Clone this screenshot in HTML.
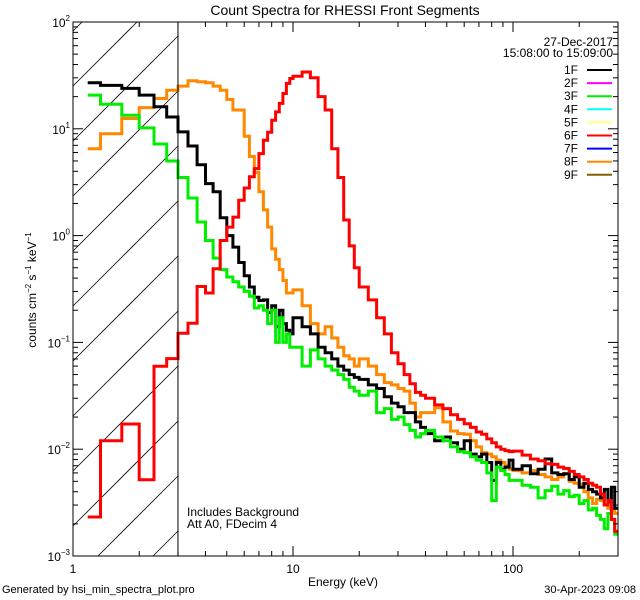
<!DOCTYPE html>
<html><head><meta charset="utf-8"><style>
html,body{margin:0;padding:0;background:#fff;width:640px;height:600px;overflow:hidden;}
svg{display:block;font-family:"Liberation Sans",sans-serif;}
</style></head><body>
<svg id="chart" width="640" height="600" viewBox="0 0 640 600" xmlns="http://www.w3.org/2000/svg">
<rect x="0" y="0" width="640" height="600" fill="#fff"/>
<defs><clipPath id="plotclip"><rect x="73" y="22" width="545" height="534"/></clipPath></defs>
<g id="hatch"></g>
<g id="series" clip-path="url(#plotclip)"></g>
<g id="axes"></g>
<text x="345" y="15" font-size="14" text-anchor="middle">Count Spectra for RHESSI Front Segments</text>
<text x="343" y="586" font-size="12" text-anchor="middle">Energy (keV)</text>
<text transform="translate(36,290) rotate(-90)" font-size="12" text-anchor="middle">counts cm<tspan font-size="8" dy="-5">−2</tspan><tspan dy="5"> s</tspan><tspan font-size="8" dy="-5">−1</tspan><tspan dy="5"> keV</tspan><tspan font-size="8" dy="-5">−1</tspan></text>
<text x="2" y="593" font-size="11">Generated by hsi_min_spectra_plot.pro</text>
<text x="636" y="593" font-size="11" text-anchor="end">30-Apr-2023 09:08</text>
<text x="187" y="516" font-size="12">Includes Background</text>
<text x="187" y="528" font-size="12">Att A0, FDecim 4</text>
<text x="613" y="46" font-size="12" text-anchor="end">27-Dec-2017</text>
<text x="613" y="57" font-size="12" text-anchor="end">15:08:00 to 15:09:00</text>
<g id="legend"></g>
</svg>
<script>
const NS="http://www.w3.org/2000/svg";
const binEdges=[];
for(let i=0;i<=27;i++)binEdges.push(1+i/3);
for(let e=11;e<=20;e+=1)binEdges.push(e);
for(let e=22;e<=40;e+=2)binEdges.push(e);
for(let e=44;e<=100;e+=4)binEdges.push(e);
for(let e=110;e<=300;e+=10)binEdges.push(e);
const seg1F=[27.0,25.5,23.9,20.7,16.1,12.9,9.35,6.9,4.6,3.07,2.57,1.47,1.0,0.78,0.56,0.42,0.33,0.265,0.247,0.25,0.19,0.22,0.14,0.2,0.15,0.13,0.12,
.17,.14,.12,.09,.08,.07,.06,.055,.05,.047,
.045,.04,.037,.031,.027,.025,.022,.022,.018,.016,
.014,.012,.013,.0115,.010,.012,.009,.0085,.009,.0075,.0051,.0075,.0065,.0068,.0079,
.0065,.007,.0059,.0065,.0081,.006,.0058,.0059,.0052,.0055,.0044,.0048,.0042,.004,.0038,.0035,.0042,.0032,.0044,.0028];
const seg3F=[20.7,17.0,13.4,10.2,7.2,5.0,3.5,2.25,1.34,0.90,0.615,0.48,0.41,0.37,0.33,0.30,0.27,0.21,0.22,0.2,0.15,0.2,0.1,0.17,0.1,0.12,0.09,
.09,.06,.085,.07,.06,.055,.05,.045,.038,.035,
.032,.035,.022,.024,.019,.02,.017,.015,.013,.014,
.015,.013,.012,.0105,.0095,.0093,.0085,.0079,.0075,.006,.0033,.0068,.0063,.0058,.0051,
.0051,.0046,.0044,.0035,.0041,.0045,.0038,.0041,.0036,.0037,.0031,.0033,.0027,.0028,.0024,.0022,.0018,.0025,.0022,.0016];
const seg6F=[.00232,.012,.0172,.00517,.0597,.0705,.122,.151,.334,.29,.49,.9,1.2,1.49,2.14,2.79,3.55,4.24,5.86,7.8,9.3,12.0,14.4,17.3,21.4,26.6,29.6,
31,34,30,20,15,6.5,3.5,1.4,0.8,0.5,
.33,.25,.17,.12,.08,.063,.05,.041,.034,.032,
.030,.026,.024,.021,.019,.0173,.016,.0145,.0138,.0125,.0115,.0105,.010,.0097,.0095,
.0096,.0088,.0081,.0078,.0073,.0072,.0068,.0066,.0062,.0058,.0055,.0052,.0048,.0046,.0044,.0038,.003,.0033,.0022,.0017];
const seg8F=[6.5,9.0,12.5,15.8,19.2,23.0,25.1,28.2,27.6,27.0,25.1,23.0,18.8,15.0,15.0,8.5,5.5,3.9,2.57,1.74,1.2,0.75,0.6,0.48,0.38,0.29,0.29,
.31,.22,.15,.12,.14,.11,.09,.075,.07,.06,
.07,.06,.05,.042,.04,.037,.035,.027,.02,.022,
.022,.0244,.018,.0148,.014,.0138,.012,.0105,.0093,.009,.0085,.0079,.0075,.007,.0065,
.0063,.006,.0063,.0058,.0055,.0052,.0055,.0059,.005,.0048,.0047,.004,.0035,.0031,.0034,.0033,.003,.0028,.0027,.0025];
const legendLabels=["1F","2F","3F","4F","5F","6F","7F","8F","9F"];
const legendColors=["#000000","#ff00ff","#00ee00","#00ffff","#ffff80","#ff0000","#0000ff","#ff8800","#806000"];
const xTickLabels=["1","10","100"];
const yTickExps=["2","1","0","-1","-2","-3"];

const X0=73,X1=618,DEC=220,Y0=22,Y1=556,YDEC=106.8;
function xs(e){return X0+Math.log10(e)*DEC;}
function ys(v){return Y0+(2-Math.log10(v))*YDEC;}
function mk(tag,attrs,parent){const el=document.createElementNS(NS,tag);for(const k in attrs)el.setAttribute(k,attrs[k]);parent.appendChild(el);return el;}

const hatch=document.getElementById('hatch');
const HX1=178;
for(let c=86-55;c<Y1+(HX1-X0);c+=55){
  const xa=X0+Math.max(0,c-Y1), xb=Math.min(HX1,X0+c-Y0);
  if(xb<=xa)continue;
  const l=mk('line',{x1:xa,y1:c-(xa-X0),x2:xb,y2:c-(xb-X0),stroke:'#000','stroke-width':0.8},hatch);
  
  
}
const axes=document.getElementById('axes');
const vl=mk('line',{x1:xs(3),y1:Y0,x2:xs(3),y2:Y1,stroke:'#000','stroke-width':1},axes);



const series=document.getElementById('series');
function drawSeries(vals,color,name){
  let d='';
  for(let i=0;i<vals.length;i++){
    const lo=(i===0)?(binEdges[0]+binEdges[1])/2:binEdges[i];
    const hi=binEdges[i+1];
    const y=ys(vals[i]).toFixed(1);
    d+=(i===0?'M':'L')+xs(lo).toFixed(1)+','+y+'L'+xs(hi).toFixed(1)+','+y;
  }
  const p=mk('path',{d:d,fill:'none',stroke:color,'stroke-width':3,'stroke-linejoin':'miter'},series);
  
  
}
drawSeries(seg8F,'#ff8800','series-8f');
drawSeries(seg1F,'#000000','series-1f');
drawSeries(seg3F,'#00ee00','series-3f');
drawSeries(seg6F,'#ff0000','series-6f');

const fr=mk('rect',{x:X0,y:Y0,width:X1-X0,height:Y1-Y0,fill:'none',stroke:'#000','stroke-width':1},axes);


for(let dec=0;dec<3;dec++){
  for(let m=1;m<=9;m++){
    const e=m*Math.pow(10,dec); if(e>300)break;
    const x=xs(e), L=(m===1)?10:5;
    const t1=mk('line',{x1:x,y1:Y1,x2:x,y2:Y1-L,stroke:'#000'},axes);
    
    
    const t2=mk('line',{x1:x,y1:Y0,x2:x,y2:Y0+L,stroke:'#000'},axes);
    
    
  }
}
xTickLabels.forEach((s,i)=>{
  const t=mk('text',{x:xs(Math.pow(10,i)),y:Y1+17,'font-size':12,'text-anchor':'middle'},axes);
  t.textContent=s;
  
  
});
for(let p=-3;p<2;p++){
  for(let m=1;m<=9;m++){
    const v=m*Math.pow(10,p), y=ys(v), L=(m===1)?10:5;
    const t1=mk('line',{x1:X0,y1:y,x2:X0+L,y2:y,stroke:'#000'},axes);
    
    
    const t2=mk('line',{x1:X1,y1:y,x2:X1-L,y2:y,stroke:'#000'},axes);
    
    
  }
}
yTickExps.forEach(s=>{
  const y=ys(Math.pow(10,Number(s)));
  const t=mk('text',{x:X0-3,y:y+5,'font-size':12,'text-anchor':'end'},axes);
  t.innerHTML='10<tspan font-size="8" dy="-6">'+s.replace('-','−')+'</tspan>';
  
  
});
const lg=document.getElementById('legend');
legendLabels.forEach((s,i)=>{
  const y=70+i*13.1;
  const t=mk('text',{x:578,y:y+4,'font-size':12,'text-anchor':'end'},lg);
  t.textContent=s;
  
  
  const l=mk('line',{x1:587,y1:y,x2:612,y2:y,stroke:legendColors[i],'stroke-width':2},lg);
  
  
});
</script>
</body></html>
